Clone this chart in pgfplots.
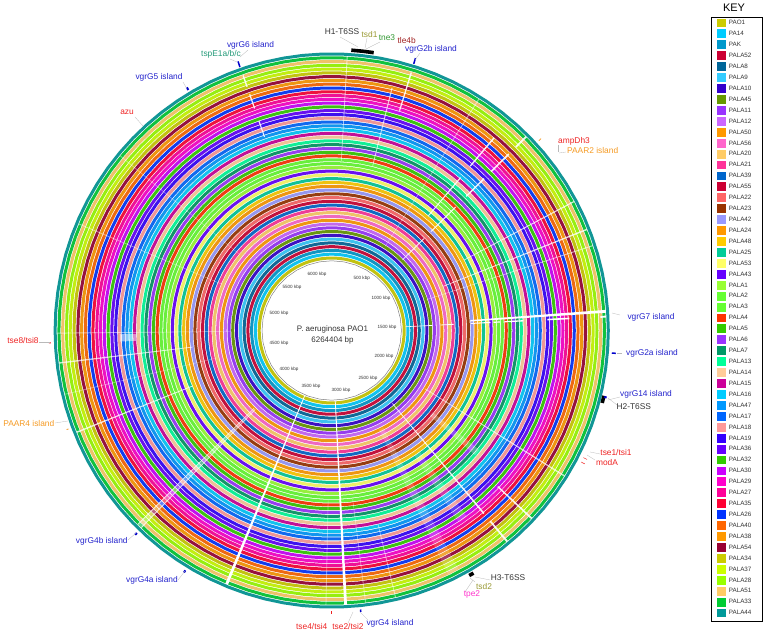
\documentclass[border=0pt]{standalone}
\usepackage{pgfplots}
\pgfplotsset{compat=1.18}
\usepackage{fontspec}
\setmainfont{Liberation Sans}
\def\dc#1#2{\definecolor{c#1}{HTML}{#2}}
\dc{PAO1}{CCCC00}\dc{PA14}{00CCFF}\dc{PAK}{0099CC}\dc{PALA52}{CC0033}\dc{PALA8}{006699}
\dc{PALA9}{33CCFF}\dc{PALA10}{3300CC}\dc{PALA45}{669900}\dc{PALA11}{9933FF}\dc{PALA12}{CC66FF}
\dc{PALA50}{FF9900}\dc{PALA56}{FF66CC}\dc{PALA20}{FFCC66}\dc{PALA21}{FF3399}\dc{PALA39}{0066CC}
\dc{PALA55}{CC0033}\dc{PALA22}{FF6666}\dc{PALA23}{993300}\dc{PALA42}{9999FF}\dc{PALA24}{FF9900}
\dc{PALA48}{FFCC00}\dc{PALA25}{00CC99}\dc{PALA53}{FFFF66}\dc{PALA43}{6600FF}\dc{PALA1}{99FF33}
\dc{PALA2}{66FF33}\dc{PALA3}{66FF33}\dc{PALA4}{FF3300}\dc{PALA5}{33CC00}\dc{PALA6}{9933FF}
\dc{PALA7}{009966}\dc{PALA13}{00FF99}\dc{PALA14}{FFCC99}\dc{PALA15}{CC0099}\dc{PALA16}{00CCFF}
\dc{PALA47}{0099FF}\dc{PALA17}{0066FF}\dc{PALA18}{FF9999}\dc{PALA19}{3300FF}\dc{PALA36}{6600FF}
\dc{PALA32}{33CC00}\dc{PALA30}{CC00FF}\dc{PALA29}{FF00CC}\dc{PALA27}{FF0099}\dc{PALA35}{FF0033}
\dc{PALA26}{0033FF}\dc{PALA40}{FF6600}\dc{PALA38}{FF9900}\dc{PALA54}{990033}\dc{PALA34}{CCCC00}
\dc{PALA37}{CCFF00}\dc{PALA28}{99FF00}\dc{PALA51}{FFCC66}\dc{PALA33}{00CC33}\dc{PALA44}{009999}
\definecolor{lblue}{HTML}{2222CC}\definecolor{lred}{HTML}{EE2222}\definecolor{lorange}{HTML}{F59A23}
\definecolor{lolive}{HTML}{999933}\definecolor{lgreen}{HTML}{339933}\definecolor{lteal}{HTML}{229977}
\definecolor{ldred}{HTML}{A02020}\definecolor{lmag}{HTML}{FF33CC}\definecolor{ldark}{HTML}{333333}
\newcommand\ring[2]{\addplot[data cs=polar,no markers,line width=3bp,color=c#1!87!gray,line join=round] coordinates {(0,#2)(4,#2)(8,#2)(12,#2)(16,#2)(20,#2)(24,#2)(28,#2)(32,#2)(36,#2)(40,#2)(44,#2)(48,#2)(52,#2)(56,#2)(60,#2)(64,#2)(68,#2)(72,#2)(76,#2)(80,#2)(84,#2)(88,#2)(92,#2)(96,#2)(100,#2)(104,#2)(108,#2)(112,#2)(116,#2)(120,#2)(124,#2)(128,#2)(132,#2)(136,#2)(140,#2)(144,#2)(148,#2)(152,#2)(156,#2)(160,#2)(164,#2)(168,#2)(172,#2)(176,#2)(180,#2)(184,#2)(188,#2)(192,#2)(196,#2)(200,#2)(204,#2)(208,#2)(212,#2)(216,#2)(220,#2)(224,#2)(228,#2)(232,#2)(236,#2)(240,#2)(244,#2)(248,#2)(252,#2)(256,#2)(260,#2)(264,#2)(268,#2)(272,#2)(276,#2)(280,#2)(284,#2)(288,#2)(292,#2)(296,#2)(300,#2)(304,#2)(308,#2)(312,#2)(316,#2)(320,#2)(324,#2)(328,#2)(332,#2)(336,#2)(340,#2)(344,#2)(348,#2)(352,#2)(356,#2)(360,#2)};}
\newcommand\key[2]{\addplot[only marks,mark=square*,mark size=4,color=c#1] coordinates {(389.3,#2)};
 \node[anchor=west,text=ldark,font=\fontsize{6.3}{7}\selectfont,inner sep=0pt] at (axis cs:397,#2) {#1};}
\newcommand\gap[5]{\addplot[data cs=polar,draw=none,fill=white,fill opacity=#5] coordinates {(#1,#3)(#1,#4)(#2,#4)(#2,#3)} --cycle;}
\newcommand\mk[5]{\addplot[data cs=polar,no markers,color=#4,line width=#5] coordinates {(#1,#2)(#1,#3)};}
\newcommand\arcm[4]{\addplot[data cs=polar,no markers,color=black,line width=3.6bp] coordinates {(#1,#3)(#4,#3)(#2,#3)};}
\newcommand\lab[5][8.4]{\node[text=#4,font=\fontsize{#1}{10}\selectfont,inner sep=0pt] at (axis cs:{#2-331.7},{330.5-#3}) {#5};}
\newcommand\lead[4]{\draw[gray!55,line width=.3pt] (axis cs:{#1-331.7},{330.5-#2}) -- (axis cs:{#3-331.7},{330.5-#4});}
\begin{document}
\begin{tikzpicture}
\path[use as bounding box] (0,0) rectangle (767bp,634bp);
\begin{axis}[at={(0,0)},anchor=south west,scale only axis,width=767bp,height=634bp,xmin=-331.7,xmax=435.3,ymin=-303.5,ymax=330.5,axis lines=none,clip=true]
\ring{PAO1}{72.5}\ring{PA14}{76.3}\ring{PAK}{80.1}\ring{PALA52}{83.8}\ring{PALA8}{87.6}
\ring{PALA9}{91.4}\ring{PALA10}{95.2}\ring{PALA45}{99.0}\ring{PALA11}{102.7}\ring{PALA12}{106.5}
\ring{PALA50}{110.3}\ring{PALA56}{114.1}\ring{PALA20}{117.9}\ring{PALA21}{121.6}\ring{PALA39}{125.4}
\ring{PALA55}{129.2}\ring{PALA22}{133.0}\ring{PALA23}{136.8}\ring{PALA42}{140.5}\ring{PALA24}{144.3}
\ring{PALA48}{148.1}\ring{PALA25}{151.9}\ring{PALA53}{155.7}\ring{PALA43}{159.4}\ring{PALA1}{163.2}
\ring{PALA2}{167.0}\ring{PALA3}{170.8}\ring{PALA4}{174.6}\ring{PALA5}{178.3}\ring{PALA6}{182.1}
\ring{PALA7}{185.9}\ring{PALA13}{189.7}\ring{PALA14}{193.5}\ring{PALA15}{197.2}\ring{PALA16}{201.0}
\ring{PALA47}{204.8}\ring{PALA17}{208.6}\ring{PALA18}{212.4}\ring{PALA19}{216.1}\ring{PALA36}{219.9}
\ring{PALA32}{223.7}\ring{PALA30}{227.5}\ring{PALA29}{231.3}\ring{PALA27}{235.0}\ring{PALA35}{238.8}
\ring{PALA26}{242.6}\ring{PALA40}{246.4}\ring{PALA38}{250.2}\ring{PALA54}{253.9}\ring{PALA34}{257.7}
\ring{PALA37}{261.5}\ring{PALA28}{265.3}\ring{PALA51}{269.1}\ring{PALA33}{272.8}
\gap{247.2}{247.8}{68}{275}{1}
\gap{272.6}{273.2}{68}{275}{1}
\gap{3.7}{4.3}{139}{275}{1}
\gap{2.7}{3.1}{74}{101}{1}\gap{2.7}{3.1}{109}{122}{1}\gap{2.7}{3.1}{139}{159}{1}\gap{2.7}{3.1}{162}{169}{1}
\gap{2.7}{3.1}{173}{192}{1}\gap{2.7}{3.1}{216}{238}{1}\gap{2.7}{3.1}{269}{275}{1}
\gap{309.55}{309.95}{95}{238}{.9}\gap{309.55}{309.95}{248}{275}{.9}
\gap{316.6}{316.95}{228}{275}{.9}
\gap{327.85}{328.15}{110}{275}{.7}
\gap{44.7}{45.1}{100}{130}{.9}\gap{44.7}{45.1}{140}{175}{.9}\gap{44.7}{45.1}{190}{215}{.9}\gap{44.7}{45.1}{225}{250}{.9}\gap{44.7}{45.1}{260}{275}{.9}
\gap{49.7}{50.05}{150}{200}{.9}\gap{49.7}{50.05}{215}{252}{.9}
\gap{27.9}{28.15}{150}{275}{.8}
\gap{21.45}{21.75}{120}{275}{.8}
\gap{17.9}{18.1}{100}{275}{.6}
\gap{57.45}{57.65}{100}{275}{.5}
\gap{72.7}{73}{230}{270}{.9}
\gap{75.9}{76.15}{170}{250}{.7}
\gap{86.65}{86.85}{170}{275}{.6}
\gap{109}{109.3}{205}{222}{.9}\gap{109}{109.3}{235}{250}{.9}\gap{109}{109.3}{258}{270}{.9}
\gap{140.35}{140.55}{120}{275}{.35}
\gap{157.05}{157.25}{120}{275}{.45}
\gap{180.45}{180.65}{100}{275}{.5}
\gap{186.65}{186.95}{140}{275}{.7}
\gap{193.35}{193.55}{120}{275}{.35}
\gap{201.6}{201.9}{150}{275}{.8}
\gap{224.9}{226.1}{110}{274}{.35}
\gap{224.9}{225.1}{110}{274}{.7}\gap{225.9}{226.1}{110}{274}{.7}
\gap{295.5}{298}{110}{270}{.18}
\gap{283.35}{283.55}{200}{275}{.5}
\gap{268.7}{268.9}{170}{275}{.4}
\gap{277}{277.2}{170}{275}{.4}
\gap{319}{321}{130}{190}{.25}
\gap{303.5}{306}{150}{230}{.18}
\gap{181}{183}{196}{212}{.5}
\ring{PALA44}{276.6}
\addplot[data cs=polar,no markers,color=gray,line width=.5bp] coordinates {(0,69.7)(10,69.7)(20,69.7)(30,69.7)(40,69.7)(50,69.7)(60,69.7)(70,69.7)(80,69.7)(90,69.7)(100,69.7)(110,69.7)(120,69.7)(130,69.7)(140,69.7)(150,69.7)(160,69.7)(170,69.7)(180,69.7)(190,69.7)(200,69.7)(210,69.7)(220,69.7)(230,69.7)(240,69.7)(250,69.7)(260,69.7)(270,69.7)(280,69.7)(290,69.7)(300,69.7)(310,69.7)(320,69.7)(330,69.7)(340,69.7)(350,69.7)(360,69.7)};
\arcm{81.4}{86.0}{281}{83.7}
\arcm{-15}{-13.5}{280}{-14.2}
\arcm{-60.7}{-59.7}{281}{-60.2}
\mk{109.2}{279}{285}{blue!80!black}{1.5bp}
\mk{120.8}{280}{283}{blue!80!black}{2bp}
\mk{72.9}{279}{285}{blue!80!black}{1.5bp}
\mk{-4.6}{281}{285}{blue!80!black}{1.5bp}
\mk{-13.7}{280.5}{283}{blue!80!black}{2bp}
\mk{275.9}{280.5}{283}{blue!80!black}{1.5bp}
\mk{238.6}{281}{283.5}{blue!80!black}{2bp}
\mk{226.1}{281}{283.5}{blue!80!black}{2bp}
\mk{182.5}{281}{283}{lred}{1bp}
\mk{200.5}{281}{283}{lorange}{.8bp}
\mk{42.5}{281}{284}{lorange}{.7bp}
\mk{-26.8}{282}{286}{lred}{.5bp}
\mk{-27.8}{282}{286}{lred}{.5bp}
\mk{270}{281}{283.5}{lred}{.5bp}
\lead{340}{37}{358}{47}\lead{367}{38}{365}{48}\lead{380}{42}{364}{50}\lead{420}{53}{415}{60}
\lead{248}{50}{240}{57}\lead{230}{59}{237}{62}\lead{183}{82}{187}{89}\lead{135}{117}{143}{126}
\lead{558}{145}{558}{152}\lead{566}{152}{559}{153}\lead{617}{353}{622}{353}\lead{620}{397}{608}{400}
\lead{617}{405}{608}{398}\lead{600}{454}{590}{452}\lead{595}{460}{587}{455}\lead{490}{580}{475}{577}
\lead{475}{582}{470}{578}\lead{465}{592}{473}{580}\lead{368}{620}{360}{612}\lead{348}{623}{353}{612}
\lead{178}{580}{185}{571}\lead{128}{540}{136}{533}\lead{55}{423}{68}{421}\lead{39}{342}{50}{342}\lead{620}{315}{612}{313}
\lab{342}{32}{ldark}{H1-T6SS}
\lab{369.5}{34.7}{lolive}{tsd1}
\lab{387}{37.3}{lgreen}{tne3}
\lab{406.7}{40.5}{ldred}{tle4b}
\lab{431}{49.7}{lblue}{vgrG2b island}
\lab{250.5}{45}{lblue}{vgrG6 island}
\lab{221}{54}{lteal}{tspE1a/b/c}
\lab{159}{77.7}{lblue}{vgrG5 island}
\lab{127}{112.7}{lred}{azu}
\lab{574}{141}{lred}{ampDh3}
\lab{592.7}{150.7}{lorange}{PAAR2 island}
\lab{651}{317}{lblue}{vgrG7 island}
\lab{652}{353}{lblue}{vgrG2a island}
\lab{646}{394.7}{lblue}{vgrG14 island}
\lab{633.8}{406.7}{ldark}{H2-T6SS}
\lab{616}{453}{lred}{tse1/tsi1}
\lab{607}{462.3}{lred}{modA}
\lab{508}{578}{ldark}{H3-T6SS}
\lab{484}{586.7}{lolive}{tsd2}
\lab{472}{594.7}{lmag}{tpe2}
\lab{390}{623}{lblue}{vgrG4 island}
\lab{348}{627}{lred}{tse2/tsi2}
\lab{311.7}{626.7}{lred}{tse4/tsi4}
\lab{152}{580.7}{lblue}{vgrG4a island}
\lab{101.8}{541.3}{lblue}{vgrG4b island}
\lab{28.8}{423.3}{lorange}{PAAR4 island}
\lab{23}{341}{lred}{tse8/tsi8}
\lab[8]{332.5}{329}{ldark}{P. aeruginosa PAO1}
\lab[8]{332.5}{340.7}{ldark}{6264404 bp}
\lab[4.6]{361.7}{278.7}{ldark}{500 kbp}
\lab[4.6]{381}{298.7}{ldark}{1000 kbp}
\lab[4.6]{387}{327}{ldark}{1500 kbp}
\lab[4.6]{384}{356}{ldark}{2000 kbp}
\lab[4.6]{368}{378.7}{ldark}{2500 kbp}
\lab[4.6]{341}{390}{ldark}{3000 kbp}
\lab[4.6]{311}{386.7}{ldark}{3500 kbp}
\lab[4.6]{289}{369.3}{ldark}{4000 kbp}
\lab[4.6]{279}{343}{ldark}{4500 kbp}
\lab[4.6]{279}{313.3}{ldark}{5000 kbp}
\lab[4.6]{292}{287.7}{ldark}{5500 kbp}
\lab[4.6]{317}{274}{ldark}{6000 kbp}
\lab[11]{734}{8}{black}{KEY}
\draw[black,line width=.8bp] (axis cs:380,313.2) rectangle (axis cs:431,-291.2);
\key{PAO1}{307.8}\key{PA14}{296.9}\key{PAK}{285.9}\key{PALA52}{275.0}\key{PALA8}{264.1}
\key{PALA9}{253.2}\key{PALA10}{242.2}\key{PALA45}{231.3}\key{PALA11}{220.4}\key{PALA12}{209.5}
\key{PALA50}{198.5}\key{PALA56}{187.6}\key{PALA20}{176.7}\key{PALA21}{165.8}\key{PALA39}{154.8}
\key{PALA55}{143.9}\key{PALA22}{133.0}\key{PALA23}{122.1}\key{PALA42}{111.1}\key{PALA24}{100.2}
\key{PALA48}{89.3}\key{PALA25}{78.4}\key{PALA53}{67.4}\key{PALA43}{56.5}\key{PALA1}{45.6}
\key{PALA2}{34.7}\key{PALA3}{23.7}\key{PALA4}{12.8}\key{PALA5}{1.9}\key{PALA6}{-9.0}
\key{PALA7}{-20.0}\key{PALA13}{-30.9}\key{PALA14}{-41.8}\key{PALA15}{-52.7}\key{PALA16}{-63.7}
\key{PALA47}{-74.6}\key{PALA17}{-85.5}\key{PALA18}{-96.4}\key{PALA19}{-107.4}\key{PALA36}{-118.3}
\key{PALA32}{-129.2}\key{PALA30}{-140.2}\key{PALA29}{-151.1}\key{PALA27}{-162.0}\key{PALA35}{-172.9}
\key{PALA26}{-183.9}\key{PALA40}{-194.8}\key{PALA38}{-205.7}\key{PALA54}{-216.6}\key{PALA34}{-227.6}
\key{PALA37}{-238.5}\key{PALA28}{-249.4}\key{PALA51}{-260.3}\key{PALA33}{-271.3}\key{PALA44}{-282.2}
\end{axis}
\end{tikzpicture}
\end{document}
